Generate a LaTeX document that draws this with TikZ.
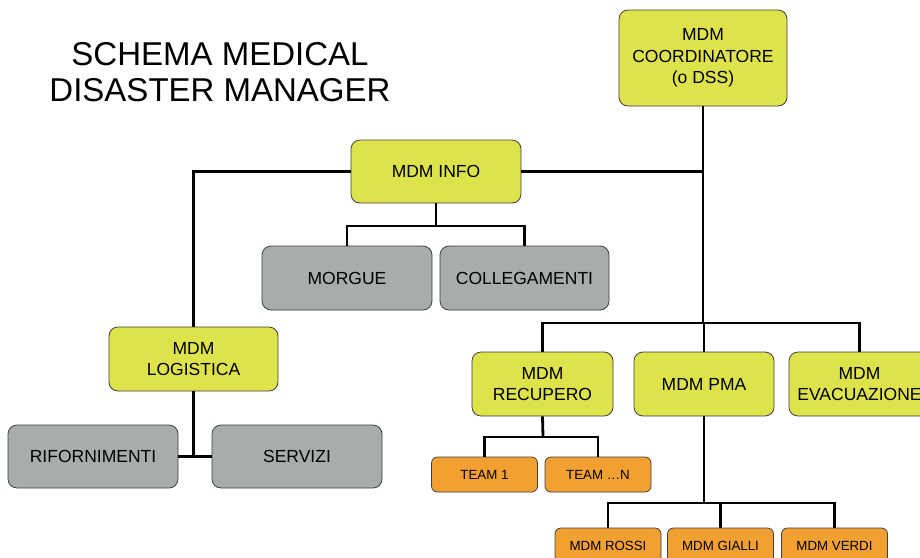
\documentclass[tikz,border=0pt]{standalone}
\usepackage{fontspec}
\setmainfont{Liberation Sans}
\definecolor{ylw}{RGB}{222,226,75}
\definecolor{gry}{RGB}{168,172,172}
\definecolor{org}{RGB}{243,160,51}
\begin{document}
\begin{tikzpicture}[x=1pt,y=-1pt,
  box/.style={draw=black!75, line width=0.8pt, rounded corners=9pt, inner sep=0pt, align=center,
    font=\fontsize{17.5}{21.5}\selectfont},
  ybox/.style={box, fill=ylw},
  gbox/.style={box, fill=gry},
  obox/.style={box, fill=org, rounded corners=6pt, font=\fontsize{13.3}{16}\selectfont,
    minimum width=106pt, minimum height=35pt},
  conn/.style={line width=2.8pt, black}]
\useasboundingbox (0,0) rectangle (920,557);
\clip (0,0) rectangle (920,557);
\fill[white] (0,0) rectangle (920,557);

\node[align=center, font=\fontsize{33}{36}\selectfont] (title) at (220,72) {SCHEMA MEDICAL\\DISASTER MANAGER};

\node[ybox, minimum width=168pt, minimum height=96pt] (coord) at (703,58) {MDM\\COORDINATORE\\(o DSS)};
\node[ybox, minimum width=170pt, minimum height=63pt] (info) at (436,171.5) {MDM INFO};
\node[gbox, minimum width=170pt, minimum height=64pt] (morgue) at (347,278) {MORGUE};
\node[gbox, minimum width=169pt, minimum height=64pt] (colleg) at (524.5,278) {COLLEGAMENTI};
\node[ybox, minimum width=169pt, minimum height=64pt] (log) at (193.5,359) {MDM\\LOGISTICA};
\node[gbox, minimum width=170pt, minimum height=63pt] (rif) at (93,456.5) {RIFORNIMENTI};
\node[gbox, minimum width=170pt, minimum height=63pt] (serv) at (297,456.5) {SERVIZI};
\node[ybox, minimum width=141pt, minimum height=64pt] (rec) at (542.5,384) {MDM\\RECUPERO};
\node[ybox, minimum width=140pt, minimum height=64pt] (pma) at (704,384) {MDM PMA};
\node[ybox, minimum width=141pt, minimum height=64pt] (evac) at (859.5,384) {MDM\\EVACUAZIONE};
\node[obox] (team1) at (484.5,474.5) {TEAM 1};
\node[obox] (teamn) at (598,474.5) {TEAM \dots N};
\node[obox] (rossi) at (608,545.5) {MDM ROSSI};
\node[obox] (gialli) at (720.5,545.5) {MDM GIALLI};
\node[obox] (verdi) at (834.5,545.5) {MDM VERDI};

\coordinate (bar) at (703,323);
\coordinate (ij) at (436,226);
\coordinate (rj) at (543,437);
\coordinate (pj) at (704,503);

\draw[conn] (coord.south) -- (bar);
\draw[conn] (rec.north) |- (bar) -| (evac.north);
\draw[conn] (pma.north) -- (pma.north |- bar);
\draw[conn] (info.east) -- (info.east -| coord.south);
\draw[conn] (info.west) -| (log.north);
\draw[conn] (info.south) -- (ij);
\draw[conn] (morgue.north) |- (ij) -| (colleg.north);
\draw[conn] (log.south) -- (log.south |- rif.east);
\draw[conn] (rif.east) -- (serv.west);
\draw[conn] (rec.south) -- (rj);
\draw[conn] (team1.north) |- (rj) -| (teamn.north);
\draw[conn] (pma.south) -- (pj);
\draw[conn] (rossi.north) |- (pj) -| (verdi.north);
\draw[conn] (gialli.north) -- (gialli.north |- pj);
\end{tikzpicture}
\end{document}
